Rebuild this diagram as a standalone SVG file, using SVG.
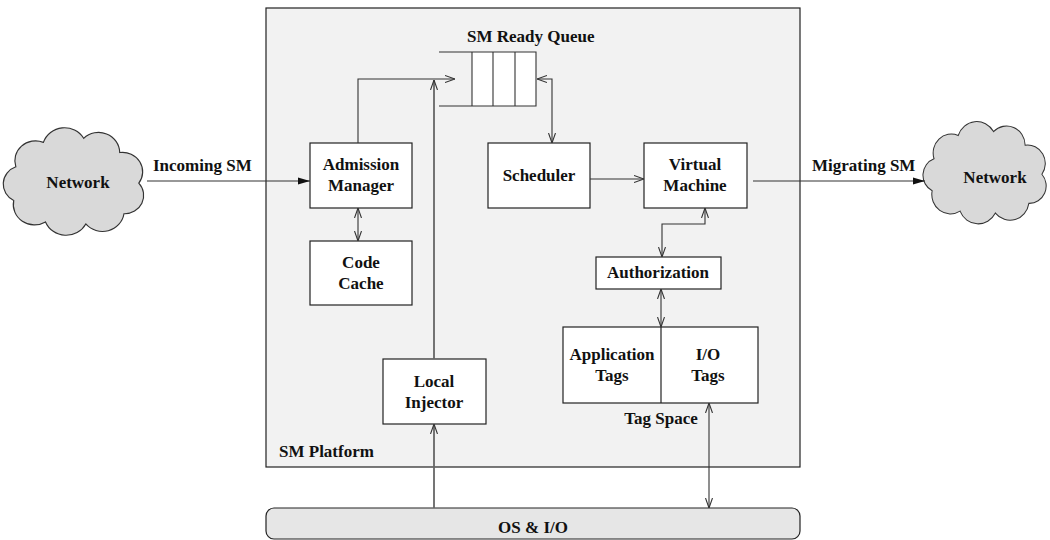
<svg xmlns="http://www.w3.org/2000/svg" width="1050" height="540" viewBox="0 0 1050 540">
<style>
  text { font-family: "Liberation Serif", "Times New Roman", serif; font-weight: bold; font-size: 17px; fill: #111; }
  .c { text-anchor: middle; }
  .box { fill: #ffffff; stroke: #222; stroke-width: 1.2; }
  .cloud { fill: #d9d9d9; stroke: #333; stroke-width: 1.1; }
  .ln { fill: none; stroke: #333; stroke-width: 1.1; }
  .gl { fill: none; stroke: #666; stroke-width: 1.8; }
</style>
<defs>
  <marker id="open" viewBox="0 0 10 8" refX="10" refY="4" markerWidth="10" markerHeight="8" markerUnits="userSpaceOnUse" orient="auto-start-reverse">
    <path d="M0,0.5 L10,4 L0,7.5" fill="none" stroke="#333" stroke-width="1.1"/>
  </marker>
  <marker id="filled" viewBox="0 0 12 8" refX="12" refY="4" markerWidth="12" markerHeight="8" markerUnits="userSpaceOnUse" orient="auto">
    <path d="M0,0.5 L12,4 L0,7.5 Z" fill="#111"/>
  </marker>
  <path id="cloudShape" d="M14,42 A19.5,19.5 0 0 1 40,18 A21,21 0 0 1 78,14 A20,20 0 0 1 112,28 A19,19 0 0 1 130,58 A18,18 0 0 1 116,88 A20.5,20.5 0 0 1 80,98 A21,21 0 0 1 42,96 A20,20 0 0 1 12,75 A18,18 0 0 1 14,42 Z"/>
</defs>

<g id="platform">
  <rect x="266" y="8" width="534" height="459" fill="#f2f2f2" stroke="#222" stroke-width="1.2"/>
  <text x="279" y="457">SM Platform</text>
</g>

<g id="os-io">
  <rect x="266" y="508" width="534" height="31" rx="8" fill="#e6e6e6" stroke="#222" stroke-width="1.2"/>
  <text class="c" x="533" y="533">OS &amp; I/O</text>
</g>

<g id="network-in">
  <use href="#cloudShape" class="cloud" transform="translate(1,124) scale(1.06,1.02)"/>
  <text class="c" x="78" y="188">Network</text>
</g>

<g id="network-out">
  <use href="#cloudShape" class="cloud" transform="translate(921,118) scale(0.93,0.97)"/>
  <text class="c" x="995" y="183">Network</text>
</g>

<g id="ready-queue">
  <rect x="472" y="52" width="64" height="54" fill="#ffffff" stroke="none"/>
  <path class="ln" d="M439,52 H536 V106 H439 M472,52 V106 M493,52 V106 M515,52 V106" stroke="#222"/>
  <text x="467" y="42">SM Ready Queue</text>
</g>

<g id="admission-manager">
  <rect class="box" x="310" y="143" width="102" height="65"/>
  <text class="c" x="361" y="170">Admission</text>
  <text class="c" x="361" y="191">Manager</text>
</g>

<g id="code-cache">
  <rect class="box" x="310" y="241" width="102" height="64"/>
  <text class="c" x="361" y="268">Code</text>
  <text class="c" x="361" y="289">Cache</text>
</g>

<g id="scheduler">
  <rect class="box" x="488" y="143" width="102" height="65"/>
  <text class="c" x="539" y="181">Scheduler</text>
</g>

<g id="virtual-machine">
  <rect class="box" x="644" y="143" width="103" height="65"/>
  <text class="c" x="695" y="170">Virtual</text>
  <text class="c" x="695" y="191">Machine</text>
</g>

<g id="authorization">
  <rect class="box" x="596" y="257" width="125" height="32"/>
  <text class="c" x="658" y="278">Authorization</text>
</g>

<g id="tag-space">
  <rect class="box" x="563" y="327" width="195" height="76"/>
  <line x1="661" y1="327" x2="661" y2="403" stroke="#222" stroke-width="1.2"/>
  <text class="c" x="612" y="360">Application</text>
  <text class="c" x="612" y="381">Tags</text>
  <text class="c" x="708" y="360">I/O</text>
  <text class="c" x="708" y="381">Tags</text>
  <text class="c" x="661" y="424">Tag Space</text>
</g>

<g id="local-injector">
  <rect class="box" x="383" y="359" width="103" height="65"/>
  <text class="c" x="434" y="387">Local</text>
  <text class="c" x="434" y="408">Injector</text>
</g>

<g id="connectors">
  <line class="ln" x1="147" y1="181" x2="310" y2="181" marker-end="url(#filled)"/>
  <text x="153" y="171">Incoming SM</text>
  <line class="ln" x1="753" y1="181" x2="925" y2="181" marker-end="url(#filled)"/>
  <text x="812" y="171">Migrating SM</text>
  <polyline class="ln" points="358,143 358,79 455,79" marker-end="url(#open)"/>
  <line class="gl" x1="434" y1="359" x2="434" y2="80" marker-end="url(#open)"/>
  <line class="gl" x1="434" y1="508" x2="434" y2="424" marker-end="url(#open)"/>
  <polyline class="ln" points="537,79 552,79 552,143" marker-start="url(#open)" marker-end="url(#open)"/>
  <line class="ln" x1="590" y1="179" x2="644" y2="179" marker-end="url(#open)"/>
  <line class="ln" x1="358" y1="208" x2="358" y2="241" marker-start="url(#open)" marker-end="url(#open)"/>
  <polyline class="ln" points="705,208 705,224 662,224 662,257" marker-start="url(#open)" marker-end="url(#open)"/>
  <line class="ln" x1="661" y1="289" x2="661" y2="327" marker-start="url(#open)" marker-end="url(#open)"/>
  <line class="ln" x1="709" y1="403" x2="709" y2="508" marker-start="url(#open)" marker-end="url(#open)"/>
</g>
</svg>
